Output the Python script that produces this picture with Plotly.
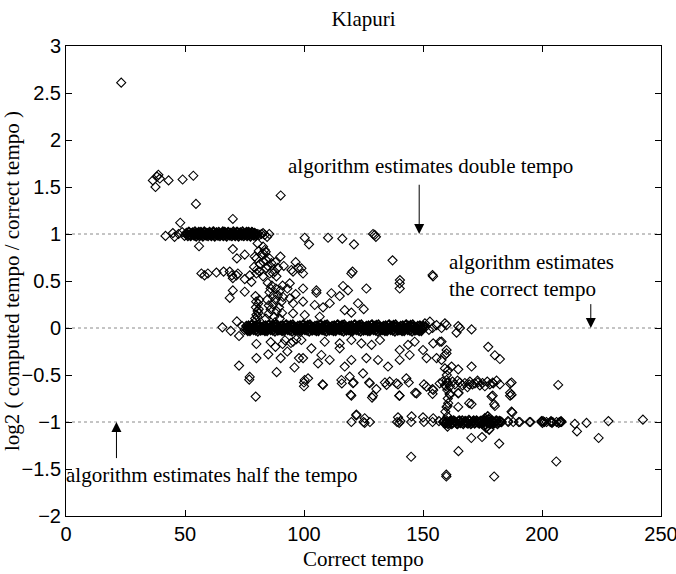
import plotly.graph_objects as go

# ---------------- data ----------------
outliers_top = [(23.2, 2.61), (36.5, 1.57), (37.6, 1.50), (38.2, 1.61), (38.8, 1.63),
                (39.4, 1.59), (43.1, 1.57), (49.0, 1.58), (53.5, 1.62), (54.6, 1.32),
                (48.0, 1.12), (90.2, 1.41), (70.1, 1.16)]

double_band_sparse = [(41.8, 0.98), (44.9, 1.01), (45.6, 0.97), (47.3, 1.0), (48.8, 1.02),
                      (49.8, 0.98), (80.6, 1.0), (81.3, 0.99), (82.1, 1.0), (82.8, 1.01),
                      (83.5, 0.99), (84.5, 0.97), (85.4, 1.0)]

double_band_dense = [
    (50.6, 1.01), (51.2, 0.98), (51.7, 1.02), (52.1, 0.99), (52.8, 1.0), (53.3, 1.015),
    (53.9, 0.985), (54.4, 1.005), (55.0, 0.995), (55.5, 1.01), (56.1, 0.98), (56.7, 1.02),
    (57.2, 0.99), (57.8, 1.0), (58.3, 1.015), (58.9, 0.985), (59.4, 1.005), (60.0, 0.995),
    (60.6, 1.01), (61.1, 0.98), (61.7, 1.02), (62.2, 0.99), (62.8, 1.0), (63.3, 1.015),
    (63.9, 0.985), (64.4, 1.005), (65.0, 0.995), (65.6, 1.01), (66.1, 0.98), (66.7, 1.02),
    (67.2, 0.99), (67.8, 1.0), (68.3, 1.015), (68.9, 0.985), (69.4, 1.005), (70.0, 0.995),
    (70.6, 1.01), (71.1, 0.98), (71.7, 1.02), (72.2, 0.99), (72.8, 1.0), (73.3, 1.015),
    (73.9, 0.985), (74.4, 1.005), (75.0, 0.995), (75.6, 1.01), (76.1, 0.98), (76.7, 1.02),
    (77.2, 0.99), (77.8, 1.0), (78.3, 1.015), (78.9, 0.985), (79.4, 1.005), (80.0, 0.995)]

double_band_fill = [
    (50.9, 0.995), (51.5, 1.02), (52.4, 0.98), (53.0, 1.01), (53.6, 0.99), (54.2, 1.025),
    (54.7, 0.975), (55.3, 1.0), (55.8, 1.02), (56.4, 0.99), (57.0, 1.01), (57.5, 0.975),
    (58.1, 1.025), (58.6, 0.995), (59.2, 1.01), (59.7, 0.98), (60.3, 1.02), (60.9, 0.99),
    (61.4, 1.0), (62.0, 1.025), (62.5, 0.975), (63.1, 1.01), (63.6, 0.99), (64.2, 1.02),
    (64.7, 0.98), (65.3, 1.0), (65.9, 1.025), (66.4, 0.99), (67.0, 1.01), (67.5, 0.975),
    (68.1, 1.02), (68.6, 0.995), (69.2, 1.01), (69.7, 0.98), (70.3, 1.025), (70.9, 0.99),
    (71.4, 1.0), (72.0, 1.02), (72.5, 0.975), (73.1, 1.01), (73.6, 0.99), (74.2, 1.025),
    (74.7, 0.98), (75.3, 1.0), (75.9, 1.02), (76.4, 0.99), (77.0, 1.01), (77.5, 0.975),
    (78.1, 1.02), (78.6, 0.995), (79.2, 1.01), (79.7, 0.98)]

between_half_and_one = [
    (55.9, 0.87), (70.1, 0.84), (71.8, 0.74), (75.1, 0.78), (80.0, 0.74), (90.1, 0.76),
    (82.8, 0.865), (83.5, 0.83), (82.8, 0.795), (84.2, 0.72), (79.3, 0.76), (82.1, 0.78),
    (83.9, 0.81), (80.5, 0.90), (81.0, 0.82), (81.5, 0.68), (79.0, 0.65), (80.2, 0.62),
    (83.0, 0.70), (84.8, 0.66), (85.5, 0.74), (86.3, 0.69), (88.0, 0.70), (89.0, 0.64),
    (91.5, 0.66), (96.5, 0.70), (97.5, 0.64),
    (56.9, 0.58), (58.2, 0.56), (59.6, 0.58), (63.2, 0.59), (66.2, 0.60), (68.8, 0.60),
    (69.7, 0.56), (70.1, 0.53), (71.6, 0.56), (72.2, 0.58), (75.1, 0.52), (77.2, 0.56),
    (77.9, 0.49), (80.0, 0.58), (81.4, 0.60), (82.8, 0.55), (84.2, 0.635), (85.6, 0.58),
    (87.0, 0.58), (87.7, 0.60), (88.4, 0.55), (94.0, 0.475), (94.7, 0.617), (95.4, 0.60),
    (98.9, 0.635), (99.6, 0.58), (120.4, 0.60), (154.0, 0.564), (140.3, 0.51),
    (100.3, 0.96), (102.1, 0.89), (110.1, 0.96), (116.1, 0.95), (121.0, 0.89),
    (129.0, 1.0), (130.2, 0.97), (129.7, 0.99), (137.2, 0.72), (119.9, 0.58), (154.2, 0.55)]

just_above_zero = [
    (68.8, 0.32), (70.1, 0.40), (75.1, 0.386), (71.8, 0.07),
    (79.5, 0.10), (80.0, 0.14), (80.5, 0.18), (79.8, 0.22), (80.7, 0.26), (81.2, 0.30),
    (79.6, 0.34), (80.4, 0.12), (81.0, 0.20), (80.0, 0.08), (80.8, 0.16), (79.9, 0.28),
    (84.0, 0.10), (85.0, 0.15), (86.0, 0.20), (87.0, 0.25), (88.0, 0.30), (89.0, 0.35),
    (90.0, 0.40), (91.0, 0.45), (84.5, 0.30), (85.5, 0.38), (86.5, 0.45), (87.5, 0.12),
    (88.5, 0.18), (89.5, 0.22), (90.5, 0.28), (84.8, 0.48), (86.0, 0.42), (87.2, 0.35),
    (88.2, 0.42), (89.8, 0.10), (90.8, 0.16), (85.2, 0.24), (87.8, 0.06), (91.2, 0.33),
    (99.6, 0.42), (105.2, 0.40), (105.2, 0.375), (116.4, 0.447), (118.5, 0.40),
    (126.2, 0.42), (111.5, 0.37), (115.0, 0.34), (140.2, 0.475), (140.2, 0.42),
    (94.0, 0.316), (95.4, 0.263), (99.6, 0.28), (104.5, 0.245), (108.0, 0.22),
    (110.8, 0.263), (117.1, 0.19), (119.9, 0.163), (122.7, 0.263), (125.1, 0.20),
    (106.6, 0.12), (100.3, 0.138), (95.4, 0.156), (93.0, 0.42), (96.5, 0.36),
    (150.8, 0.05), (152.9, 0.067), (155.7, 0.03), (159.2, 0.05)]

correct_band_sparse = [(65.7, 0.007), (69.2, -0.03), (72.7, -0.085), (74.0, 0.02), (75.0, -0.02),
                       (151.0, 0.01), (152.5, -0.02), (154.0, 0.0), (157.8, 0.0), (159.9, 0.03),
                       (164.8, 0.02), (165.5, 0.0), (164.1, -0.05), (170.4, -0.015)]

correct_band_dense = [
    (75.8, 0.02), (76.4, -0.03), (77.0, 0.01), (77.6, -0.01), (78.2, 0.035), (78.8, -0.02),
    (79.4, 0.0), (80.0, 0.03), (80.6, -0.035), (81.2, 0.015), (81.8, -0.025), (82.4, 0.005),
    (83.0, 0.02), (83.6, -0.03), (84.2, 0.01), (84.8, -0.01), (85.4, 0.035), (86.0, -0.02),
    (86.6, 0.0), (87.2, 0.03), (87.8, -0.035), (88.4, 0.015), (89.0, -0.025), (89.6, 0.005),
    (90.2, 0.02), (90.8, -0.03), (91.4, 0.01), (92.0, -0.01), (92.6, 0.035), (93.2, -0.02),
    (93.8, 0.0), (94.4, 0.03), (95.0, -0.035), (95.6, 0.015), (96.2, -0.025), (96.8, 0.005),
    (97.4, 0.02), (98.0, -0.03), (98.6, 0.01), (99.2, -0.01), (99.8, 0.035), (100.4, -0.02),
    (101.0, 0.0), (101.6, 0.03), (102.2, -0.035), (102.8, 0.015), (103.4, -0.025), (104.0, 0.005),
    (104.6, 0.02), (105.2, -0.03), (105.8, 0.01), (106.4, -0.01), (107.0, 0.035), (107.6, -0.02),
    (108.2, 0.0), (108.8, 0.03), (109.4, -0.035), (110.0, 0.015), (110.6, -0.025), (111.2, 0.005),
    (111.8, 0.02), (112.4, -0.03), (113.0, 0.01), (113.6, -0.01), (114.2, 0.035), (114.8, -0.02),
    (115.4, 0.0), (116.0, 0.03), (116.6, -0.035), (117.2, 0.015), (117.8, -0.025), (118.4, 0.005),
    (119.0, 0.02), (119.6, -0.03), (120.2, 0.01), (120.8, -0.01), (121.4, 0.035), (122.0, -0.02),
    (122.6, 0.0), (123.2, 0.03), (123.8, -0.035), (124.4, 0.015), (125.0, -0.025), (125.6, 0.005),
    (126.2, 0.02), (126.8, -0.03), (127.4, 0.01), (128.0, -0.01), (128.6, 0.035), (129.2, -0.02),
    (129.8, 0.0), (130.4, 0.03), (131.0, -0.035), (131.6, 0.015), (132.2, -0.025), (132.8, 0.005),
    (133.4, 0.02), (134.0, -0.03), (134.6, 0.01), (135.2, -0.01), (135.8, 0.035), (136.4, -0.02),
    (137.0, 0.0), (137.6, 0.03), (138.2, -0.035), (138.8, 0.015), (139.4, -0.025), (140.0, 0.005),
    (140.6, 0.02), (141.2, -0.03), (141.8, 0.01), (142.4, -0.01), (143.0, 0.035), (143.6, -0.02),
    (144.2, 0.0), (144.8, 0.03), (145.4, -0.035), (146.0, 0.015), (146.6, -0.025), (147.2, 0.005),
    (147.8, 0.02), (148.4, -0.03), (149.0, 0.01), (149.6, -0.01), (150.2, 0.02)]

correct_band_fill = [
    (76.1, -0.015), (76.7, 0.025), (77.3, -0.03), (77.9, 0.03), (78.5, -0.005), (79.1, 0.02),
    (79.7, -0.025), (80.3, 0.01), (80.9, 0.035), (81.5, -0.01), (82.1, 0.0), (82.7, -0.02),
    (83.3, -0.015), (83.9, 0.025), (84.5, -0.03), (85.1, 0.03), (85.7, -0.005), (86.3, 0.02),
    (86.9, -0.025), (87.5, 0.01), (88.1, 0.035), (88.7, -0.01), (89.3, 0.0), (89.9, -0.02),
    (90.5, -0.015), (91.1, 0.025), (91.7, -0.03), (92.3, 0.03), (92.9, -0.005), (93.5, 0.02),
    (94.1, -0.025), (94.7, 0.01), (95.3, 0.035), (95.9, -0.01), (96.5, 0.0), (97.1, -0.02),
    (97.7, -0.015), (98.3, 0.025), (98.9, -0.03), (99.5, 0.03), (100.1, -0.005), (100.7, 0.02),
    (101.3, -0.025), (101.9, 0.01), (102.5, 0.035), (103.1, -0.01), (103.7, 0.0), (104.3, -0.02),
    (104.9, -0.015), (105.5, 0.025), (106.1, -0.03), (106.7, 0.03), (107.3, -0.005), (107.9, 0.02),
    (108.5, -0.025), (109.1, 0.01), (109.7, 0.035), (110.3, -0.01), (110.9, 0.0), (111.5, -0.02),
    (112.1, -0.015), (112.7, 0.025), (113.3, -0.03), (113.9, 0.03), (114.5, -0.005), (115.1, 0.02),
    (115.7, -0.025), (116.3, 0.01), (116.9, 0.035), (117.5, -0.01), (118.1, 0.0), (118.7, -0.02),
    (119.3, -0.015), (119.9, 0.025), (120.5, -0.03), (121.1, 0.03), (121.7, -0.005), (122.3, 0.02),
    (122.9, -0.025), (123.5, 0.01), (124.1, 0.035), (124.7, -0.01), (125.3, 0.0), (125.9, -0.02),
    (126.5, -0.015), (127.1, 0.025), (127.7, -0.03), (128.3, 0.03), (128.9, -0.005), (129.5, 0.02),
    (130.1, -0.025), (130.7, 0.01), (131.3, 0.035), (131.9, -0.01), (132.5, 0.0), (133.1, -0.02),
    (133.7, -0.015), (134.3, 0.025), (134.9, -0.03), (135.5, 0.03), (136.1, -0.005), (136.7, 0.02),
    (137.3, -0.025), (137.9, 0.01), (138.5, 0.035), (139.1, -0.01), (139.7, 0.0), (140.3, -0.02),
    (140.9, -0.015), (141.5, 0.025), (142.1, -0.03), (142.7, 0.03), (143.3, -0.005), (143.9, 0.02),
    (144.5, -0.025), (145.1, 0.01), (145.7, 0.035), (146.3, -0.01), (146.9, 0.0), (147.5, -0.02),
    (148.1, -0.015), (148.7, 0.025), (149.3, -0.03), (149.9, 0.01)]

below_zero = [
    (80.0, -0.17), (80.0, -0.32), (90.2, -0.32), (97.9, -0.32), (72.7, -0.40), (77.2, -0.52),
    (79.7, -0.73), (86.0, -0.15), (88.0, -0.20), (91.0, -0.17), (94.5, -0.16), (96.8, -0.12),
    (92.0, -0.13), (93.0, -0.25), (96.0, -0.42), (88.5, -0.47), (85.0, -0.28),
    (95.4, -0.146), (98.9, -0.128), (103.1, -0.216), (108.7, -0.146), (115.0, -0.163),
    (119.9, -0.128), (124.1, -0.163), (128.4, -0.18), (131.9, -0.128), (140.2, -0.234),
    (143.7, -0.18), (146.5, -0.146), (150.0, -0.234), (154.3, -0.163), (157.1, -0.146),
    (159.9, -0.234),
    (99.6, -0.32), (105.9, -0.376), (107.3, -0.287), (110.8, -0.34), (115.0, -0.216),
    (117.1, -0.41), (119.9, -0.34), (126.2, -0.32), (131.1, -0.34), (135.3, -0.41),
    (140.2, -0.34), (144.4, -0.287), (151.5, -0.32), (155.7, -0.32), (159.2, -0.287),
    (100.3, -0.553), (101.7, -0.535), (108.0, -0.606), (115.7, -0.553), (119.2, -0.518),
    (120.6, -0.588), (124.8, -0.482), (127.6, -0.588), (134.7, -0.606), (136.0, -0.571),
    (138.8, -0.588), (143.0, -0.535), (147.3, -0.695), (151.5, -0.624), (154.3, -0.66),
    (159.9, -0.553), (119.9, -0.72), (129.0, -0.72), (140.2, -0.72),
    (122.0, -0.93), (125.5, -0.96), (139.5, -0.95), (145.2, -0.94), (150.0, -0.95), (154.3, -0.96),
    (77.0, -0.55), (100.0, -0.62), (100.0, -0.58), (107.8, -0.60), (115.9, -0.59),
    (119.6, -0.71), (120.8, -0.58), (127.4, -0.58), (128.6, -0.74), (130.4, -0.65),
    (134.0, -0.58), (139.5, -0.60), (140.0, -0.72), (144.0, -0.58), (146.7, -0.69),
    (150.4, -0.60), (154.0, -0.65), (154.0, -0.70)]

right_of_160 = [
    (160.3, -0.58), (161.2, -0.70), (164.9, -0.69), (169.4, -0.60), (169.4, -0.80),
    (173.0, -0.58), (179.3, -0.58), (179.3, -0.72), (179.9, -0.81), (186.6, -0.72),
    (157.8, -0.145), (159.9, -0.27), (177.4, -0.20), (180.2, -0.29), (182.3, -0.33),
    (159.2, -0.43), (162.0, -0.41), (164.8, -0.44), (170.4, -0.41), (157.8, -0.34),
    (161.3, -0.71), (164.8, -0.695), (178.8, -0.73), (187.2, -0.71),
    (160.6, -0.80), (159.9, -0.84), (164.8, -0.84), (170.4, -0.81), (180.2, -0.83), (187.2, -0.89),
    (160.3, -0.94), (159.4, -0.89), (160.3, -0.83), (160.3, -1.05), (160.0, -0.50),
    (160.5, -0.45), (159.6, -0.62), (160.2, -0.66), (160.4, -0.75),
    (187.2, -0.58), (206.8, -0.606), (186.6, -0.59), (186.6, -0.69)]

sixty_percent_row = [
    (157.0, -0.59), (158.2, -0.57), (159.2, -0.61), (160.3, -0.585), (161.3, -0.62),
    (162.4, -0.57), (163.4, -0.60), (164.5, -0.56), (165.5, -0.58), (166.6, -0.61),
    (167.6, -0.585), (168.7, -0.63), (169.7, -0.57), (170.8, -0.60), (171.8, -0.59),
    (172.9, -0.56), (173.9, -0.61), (175.0, -0.585), (176.0, -0.62), (177.0, -0.57),
    (178.1, -0.60), (179.5, -0.59), (180.9, -0.56), (182.3, -0.60)]

half_band_sparse = [
    (119.9, -1.0), (122.0, -0.92), (125.0, -1.0), (125.5, -1.01), (127.7, -1.0),
    (139.1, -1.0), (140.0, -1.01), (140.5, -0.99), (145.0, -1.0), (150.4, -1.0),
    (154.0, -1.0), (156.7, -0.99),
    (185.7, -0.99), (185.8, -1.0), (187.5, -0.90), (187.9, -1.0), (190.2, -1.0), (190.7, -1.0),
    (194.7, -1.0), (195.2, -1.0), (199.8, -1.0), (199.8, -0.99), (200.2, -1.01), (200.4, -0.99),
    (201.0, -1.0), (201.9, -1.0), (203.5, -1.0), (203.8, -0.99), (204.0, -1.0), (204.2, -1.01),
    (204.5, -1.0), (206.1, -1.0), (207.0, -1.01), (207.4, -1.0), (207.8, -1.0), (208.2, -1.0),
    (208.0, -0.99), (213.8, -1.02), (214.7, -1.10), (218.7, -1.01), (223.8, -1.17),
    (227.9, -0.99), (242.4, -0.975)]

half_band_dense = [
    (158.5, -1.0), (159.3, -1.015), (160.1, -0.99), (160.9, -1.01), (161.7, -0.985),
    (162.5, -1.005), (163.3, -0.995), (164.1, -1.015), (164.9, -0.99), (165.7, -1.01),
    (166.5, -0.985), (167.3, -1.005), (168.1, -0.995), (168.9, -1.015), (169.7, -0.99),
    (170.5, -1.01), (171.3, -0.985), (172.1, -1.005), (172.9, -0.995), (173.7, -1.015),
    (174.5, -0.99), (175.3, -1.01), (176.1, -0.985), (176.9, -1.005), (177.7, -0.995),
    (178.5, -1.015), (179.3, -0.99), (180.1, -1.01), (180.9, -0.985), (181.7, -1.005),
    (182.5, -0.995), (183.0, -1.0), (176.5, -1.06), (177.2, -0.94), (177.8, -1.08), (176.0, -0.96),
    (158.9, -0.99), (159.7, -1.01), (160.5, -1.02), (161.3, -0.995), (162.1, -1.02),
    (162.9, -0.985), (163.7, -1.0), (164.5, -1.02), (165.3, -0.985), (166.1, -1.0),
    (166.9, -1.02), (167.7, -0.99), (168.5, -1.01), (169.3, -0.98), (170.1, -1.02),
    (170.9, -0.995), (171.7, -1.015), (172.5, -0.985), (173.3, -1.01), (174.1, -0.99),
    (174.9, -1.02), (175.7, -0.995), (176.3, -1.03), (177.5, -0.97), (178.1, -1.02),
    (178.9, -0.985), (179.7, -1.015), (180.5, -0.99), (181.3, -1.02), (182.1, -0.99)]

below_half = [(170.3, -1.17), (174.8, -1.16), (182.0, -1.23), (164.9, -1.31), (145.0, -1.37),
              (159.8, -1.58), (159.8, -1.56), (179.9, -1.58), (206.0, -1.42)]

dense_clusters = [double_band_dense, double_band_fill, correct_band_dense, correct_band_fill,
                  half_band_dense]
scattered_clusters = [outliers_top, double_band_sparse, between_half_and_one, just_above_zero,
                      correct_band_sparse, below_zero, right_of_160, sixty_percent_row,
                      half_band_sparse, below_half]

reference_levels = [1, 0, -1]
x_ticks = [0, 50, 100, 150, 200, 250]
y_ticks = [3, 2.5, 2, 1.5, 1, 0.5, 0, -0.5, -1, -1.5, -2]

SERIF = "Liberation Serif, Times New Roman, serif"
SANS = "Liberation Sans, Arial, sans-serif"

fig = go.Figure()
for group, lw in ((scattered_clusters, 1.1), (dense_clusters, 1.5)):
    xs = [p[0] for c in group for p in c]
    ys = [p[1] for c in group for p in c]
    fig.add_trace(go.Scatter(
        x=xs, y=ys, mode="markers",
        marker=dict(symbol="diamond-open", size=7, color="black",
                    line=dict(width=lw, color="black")),
        hoverinfo="skip", showlegend=False))

for lvl in reference_levels:
    fig.add_shape(type="line", xref="x domain", yref="y", x0=0, x1=1, y0=lvl, y1=lvl,
                  line=dict(color="#8a8a8a", width=1, dash="dot"), layer="below")

annotations = [
    dict(x=92.4, y=1.72, text="algorithm estimates double tempo", xshift=0),
    dict(x=159.9, y=0.70, text="algorithm estimates", xshift=0),
    dict(x=159.9, y=0.42, text="the correct tempo", xshift=0),
    dict(x=0.0, y=-1.56, text="algorithm estimates half the tempo", xshift=-2),
]
for a in annotations:
    fig.add_annotation(x=a["x"], y=a["y"], text=a["text"], xref="x", yref="y",
                       xshift=a["xshift"], showarrow=False, xanchor="left", yanchor="middle",
                       font=dict(family=SERIF, size=21, color="black"))

arrows = [(148.4, 1.54, 1.0), (220.5, 0.27, 0.0), (21.2, -1.40, -1.0)]
for ax_, tail, head in arrows:
    fig.add_annotation(x=ax_, y=head, ax=ax_, ay=tail, xref="x", yref="y",
                       axref="x", ayref="y", text="", showarrow=True,
                       arrowhead=2, arrowsize=2, arrowwidth=1, arrowcolor="black")

# x-axis title placed in the bottom margin
fig.add_annotation(x=0.5, y=-43 / 470, xref="paper", yref="paper", text="Correct tempo",
                   showarrow=False, xanchor="center", yanchor="middle",
                   font=dict(family=SERIF, size=21, color="black"))

axis_common = dict(showgrid=False, zeroline=False, showline=True, linecolor="black",
                   linewidth=1, mirror="ticks", ticks="inside", ticklen=6,
                   tickcolor="black", ticklabeloverflow="allow", automargin=False,
                   tickfont=dict(family=SANS, size=20, color="black"))

fig.update_layout(
    width=676, height=574,
    margin=dict(l=66, r=15, t=46, b=58, autoexpand=False),
    paper_bgcolor="white", plot_bgcolor="white",
    title=dict(text="Klapuri", x=0.5, xref="paper", xanchor="center",
               y=1 - 19 / 574, yanchor="middle",
               font=dict(family=SERIF, size=21, color="black")),
    xaxis=dict(range=[0, 250], tickvals=x_ticks, **axis_common),
    yaxis=dict(range=[-2, 3], tickvals=y_ticks,
               title=dict(text="log2 ( computed tempo / correct tempo )",
                          font=dict(family=SERIF, size=21, color="black"), standoff=2),
               **axis_common),
)

fig.write_html("out.html")
